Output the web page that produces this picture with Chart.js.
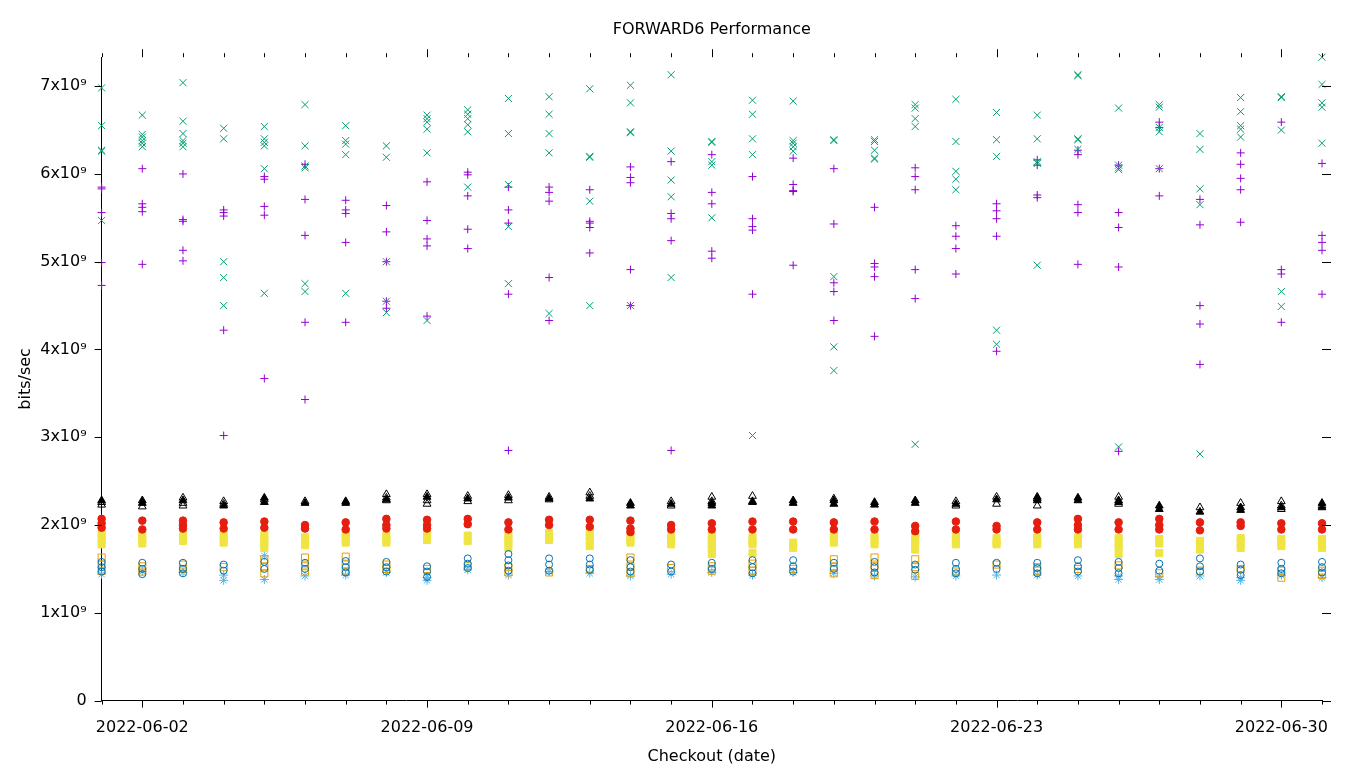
<!DOCTYPE html>
<html>
<head>
<meta charset="utf-8">
<title>FORWARD6 Performance</title>
<script src="https://cdn.jsdelivr.net/npm/chart.js@4"></script>
<style>
  html, body { margin: 0; padding: 0; background: #fff; }
  #wrap { width: 1360px; height: 768px; }
</style>
</head>
<body>
<div id="wrap"><canvas id="chart"></canvas></div>
<script>
// values are in units of 10^9 bits/sec, one inner list per checkout day (2022-06-01 .. 2022-07-01)
const tickDays = [1, 8, 15, 22, 29];
const tickLabels = ['2022-06-02', '2022-06-09', '2022-06-16', '2022-06-23', '2022-06-30'];
const yTicks = [0, 1, 2, 3, 4, 5, 6, 7];

const purplePlus = [
  [5.85,5.83,5.56,4.99,4.73],[6.06,5.66,5.62,5.57,4.97],[6.00,5.48,5.46,5.13,5.01],[5.59,5.56,5.52,4.22,3.02],
  [5.97,5.94,5.63,5.53,3.67],[6.11,5.71,5.30,4.31,3.43],[5.70,5.59,5.55,5.22,4.31],[5.64,5.34,5.00,4.55,4.47],
  [5.91,5.47,5.26,5.18,4.38],[6.02,5.99,5.75,5.37,5.15],[5.85,5.59,5.44,4.63,2.85],[5.85,5.79,5.69,4.82,4.33],
  [5.82,5.46,5.44,5.39,5.10],[6.08,5.96,5.90,4.91,4.50],[6.14,5.55,5.49,5.24,2.85],[6.22,5.79,5.66,5.12,5.04],
  [5.97,5.49,5.40,5.36,4.63],[6.18,5.88,5.81,5.80,4.96],[6.06,5.43,4.76,4.66,4.33],[5.62,4.98,4.94,4.83,4.15],
  [6.07,5.97,5.82,4.91,4.58],[5.41,5.29,5.15,4.86],[5.66,5.58,5.49,5.29,3.98],[6.16,6.10,5.76,5.73],
  [6.27,6.22,5.65,5.56,4.97],[6.10,5.56,5.39,4.94,2.84],[6.59,6.53,6.06,5.75],[5.71,5.42,4.50,4.29,3.83],
  [6.24,6.11,5.95,5.82,5.45],[6.59,4.91,4.86,4.31],[6.12,5.30,5.22,5.13,4.63]
];
const greenCross = [
  [6.98,6.55,6.27,6.26,5.47],[6.67,6.45,6.42,6.38,6.35,6.31],[7.04,6.60,6.46,6.38,6.35,6.31],[6.52,6.40,5.00,4.82,4.50],
  [6.54,6.40,6.36,6.32,6.06,4.64],[6.79,6.32,6.09,6.07,4.75,4.66],[6.55,6.38,6.34,6.22,4.64],[6.32,6.19,5.00,4.55,4.42],
  [6.67,6.63,6.59,6.51,6.24,4.33],[6.73,6.68,6.63,6.56,6.48,5.85],[6.86,6.46,5.88,5.40,4.75],[6.88,6.68,6.46,6.24,4.41],
  [6.97,6.20,6.19,5.69,4.50],[7.01,6.81,6.48,6.47,4.50],[7.13,6.26,5.93,5.74,4.82],[6.37,6.36,6.14,6.10,5.50],
  [6.84,6.68,6.40,6.22,3.02],[6.83,6.38,6.35,6.31,6.26],[6.39,6.38,4.83,4.03,3.76],[6.39,6.37,6.27,6.18,6.17],
  [6.79,6.75,6.63,6.54,2.92],[6.85,6.37,6.03,5.94,5.82],[6.70,6.39,6.20,4.22,4.06],[6.67,6.40,6.14,6.12,4.96],
  [7.13,7.12,6.40,6.39,6.28],[6.75,6.10,6.07,6.05,2.89],[6.79,6.76,6.53,6.48,6.06],[6.46,6.28,5.83,5.65,2.81],
  [6.87,6.71,6.55,6.51,6.42],[6.88,6.87,6.50,4.66,4.49],[7.33,7.02,6.81,6.76,6.35]
];
const lightBlueStar = [
  [1.44],[1.47],[1.46],[1.37,1.43],[1.65,1.38],[1.42],[1.43],[1.46],[1.40,1.37],[1.49],[1.43],
  [1.47],[1.45],[1.42],[1.44],[1.46],[1.43],[1.46],[1.45],[1.42],[1.41],[1.42],[1.43],[1.43],
  [1.42],[1.38,1.42],[1.41,1.38],[1.42],[1.37,1.40],[1.43],[1.40]
];
const orangeSquare = [
  [1.63,1.55,1.48],[1.53,1.47],[1.55,1.50],[1.52],[1.61,1.52,1.45],[1.63,1.53,1.47],[1.64,1.55,1.47],[1.55,1.50],
  [1.50],[1.53],[1.52,1.46],[1.46],[1.50],[1.63,1.53,1.45],[1.51],[1.53,1.48],[1.56,1.48],[1.50],
  [1.61,1.52,1.45],[1.63,1.53,1.43],[1.61,1.52,1.42],[1.47],[1.55],[1.52,1.48],[1.50],[1.54],[1.45],
  [1.48],[1.50],[1.48,1.40],[1.48,1.43]
];
const yellowSquare = [
  [1.90,1.84,1.78],[1.89,1.84,1.79],[1.89,1.82],[1.90,1.85,1.80],[1.89,1.84,1.80,1.74],[1.86,1.81,1.77],
  [1.90,1.85,1.80],[1.88,1.84,1.80],[1.90,1.85,1.83],[1.88,1.82],[1.89,1.84,1.80,1.74],[1.91,1.86,1.83],
  [1.92,1.87,1.82,1.76],[1.87,1.83,1.80],[1.87,1.82,1.78],[1.88,1.83,1.78,1.73,1.67],[1.86,1.81,1.78,1.68],
  [1.80,1.74],[1.88,1.84,1.80],[1.87,1.82,1.78],[1.87,1.82,1.78,1.72],[1.87,1.82,1.78],[1.85,1.80,1.78],
  [1.86,1.82,1.78],[1.86,1.82,1.78],[1.85,1.80,1.75,1.67],[1.84,1.79,1.68],[1.82,1.77,1.72],[1.85,1.80,1.74],
  [1.84,1.80,1.76],[1.84,1.79,1.74]
];
const blueCircle = [
  [1.58,1.52,1.47],[1.57,1.50,1.44],[1.57,1.50,1.45],[1.55,1.48],[1.58,1.50],[1.57,1.50],[1.59,1.52,1.46],
  [1.58,1.52,1.47],[1.53,1.47,1.41],[1.62,1.56,1.51],[1.67,1.60,1.54,1.48],[1.62,1.55,1.48],[1.62,1.55,1.49],
  [1.60,1.52,1.47],[1.55,1.47],[1.57,1.50],[1.60,1.52,1.45],[1.60,1.53,1.47],[1.57,1.50],[1.58,1.52,1.46],
  [1.55,1.49],[1.57,1.50,1.45],[1.57,1.50],[1.57,1.51,1.45],[1.60,1.53,1.47],[1.58,1.51,1.45],[1.56,1.48],
  [1.62,1.53,1.47],[1.55,1.49,1.43],[1.57,1.50,1.45],[1.58,1.52,1.46]
];
const redCircle = [
  [2.07,2.02,1.97],[2.05,1.95],[2.05,2.00,1.96],[2.03,1.96],[2.04,1.97],[2.00,1.96],[2.03,1.95],[2.07,2.00,1.96],
  [2.06,2.00,1.96],[2.07,2.01],[2.03,1.95],[2.06,2.00],[2.06,1.98],[2.05,1.96,1.92],[2.00,1.95],[2.02,1.95],
  [2.04,1.95],[2.04,1.95],[2.03,1.95],[2.04,1.95],[1.99,1.93],[2.04,1.95],[1.99,1.95],[2.03,1.95],
  [2.07,2.00,1.95],[2.03,1.95],[2.07,2.00,1.95],[2.03,1.94],[2.03,1.99],[2.02,1.95],[2.02,1.95]
];
const openTriangle = [
  [2.26,2.23],[2.21],[2.31,2.25,2.22],[2.27,2.24],[2.29],[2.27],[],[2.35,2.31,2.28],[2.35,2.28,2.24],
  [2.33,2.27],[2.34,2.28],[2.32,2.29],[2.37,2.33],[],[2.27,2.22],[2.32,2.27],[2.33,2.27],[],[2.30],[],[],
  [2.27,2.22],[2.32,2.24],[2.30,2.22],[],[2.32,2.24],[],[2.20],[2.25],[2.27,2.22,2.18],[2.22]
];
const filledTriangle = [
  [2.28],[2.28,2.25],[2.28],[2.22],[2.31,2.26],[2.25],[2.27,2.25],[2.29],[2.32],[2.30],[2.31],[2.30],[2.30],
  [2.25,2.22],[2.24],[2.25,2.22],[2.26],[2.28,2.25],[2.28,2.24],[2.26,2.23],[2.28,2.25],[2.24],[2.29],
  [2.32,2.28],[2.31,2.28],[2.28,2.26],[2.22,2.18],[2.15],[2.20,2.17],[2.20],[2.25,2.20]
];

function toPoints(perDay) {
  const pts = [];
  perDay.forEach((vals, day) => vals.forEach(v => pts.push({ x: day, y: v })));
  return pts;
}

// gnuplot-like tick marks: out on left/bottom, mirrored on top/right
const ticsPlugin = {
  id: 'tics',
  afterDraw(chart) {
    const { ctx, chartArea: a, scales: { x, y } } = chart;
    ctx.save();
    ctx.strokeStyle = '#000';
    ctx.lineWidth = 1;
    ctx.beginPath();
    for (let d = 0; d <= 30; d++) {
      const px = Math.round(x.getPixelForValue(d)) + 0.5;
      const major = tickDays.includes(d);
      ctx.moveTo(px, a.bottom); ctx.lineTo(px, a.bottom + (major ? 7 : 4));
      ctx.moveTo(px, a.top); ctx.lineTo(px, a.top - (major ? 8 : 4));
    }
    yTicks.forEach(v => {
      const py = Math.round(y.getPixelForValue(v)) + 0.5;
      ctx.moveTo(a.left - 7, py); ctx.lineTo(a.left, py);
      ctx.moveTo(a.right, py); ctx.lineTo(a.right + 9, py);
    });
    ctx.stroke();
    ctx.restore();
  }
};

function series(data, style, radius, border, fill, order) {
  return {
    data: toPoints(data),
    pointStyle: style,
    pointRadius: radius,
    pointBorderWidth: 1,
    borderColor: border,
    backgroundColor: fill,
    pointBackgroundColor: fill,
    pointBorderColor: border,
    showLine: false,
    clip: false,
    order
  };
}

const font = { family: 'DejaVu Sans', size: 16 };
const none = 'rgba(0,0,0,0)';

new Chart(document.getElementById('chart'), {
  type: 'scatter',
  data: {
    datasets: [
      series(purplePlus, 'cross', 4, '#9400d3', none, 9),
      series(greenCross, 'crossRot', 5, '#009e73', none, 8),
      series(lightBlueStar, 'star', 4.5, '#56b4e9', none, 7),
      series(orangeSquare, 'rect', 5, '#e69f00', none, 6),
      series(yellowSquare, 'rect', 5, '#f0e442', '#f0e442', 5),
      series(blueCircle, 'circle', 3.5, '#0072b2', none, 4),
      series(redCircle, 'circle', 3.8, '#e51e10', '#e51e10', 3),
      series(openTriangle, 'triangle', 4.5, '#000', none, 2),
      series(filledTriangle, 'triangle', 4.5, '#000', '#000', 1)
    ]
  },
  options: {
    responsive: true,
    maintainAspectRatio: false,
    animation: false,
    layout: { padding: { left: 10, right: 38, top: 0, bottom: 2 } },
    plugins: {
      legend: { display: false },
      tooltip: { enabled: false },
      title: {
        display: true,
        fullSize: false,
        text: 'FORWARD6 Performance',
        color: '#000',
        font: { ...font, weight: 'normal' },
        padding: { top: 20, bottom: 18 }
      }
    },
    scales: {
      x: {
        type: 'linear',
        min: 0,
        max: 30,
        grid: { display: false, drawTicks: false },
        border: { display: true, color: '#000', width: 1 },
        afterBuildTicks: s => { s.ticks = tickDays.map(v => ({ value: v })); },
        ticks: {
          autoSkip: false,
          maxRotation: 0,
          padding: 18,
          color: '#000',
          font,
          callback: v => tickLabels[tickDays.indexOf(v)]
        },
        title: { display: true, text: 'Checkout (date)', color: '#000', font, padding: { top: -9, bottom: 0 } }
      },
      y: {
        min: 0,
        max: 7.33,
        grid: { display: false, drawTicks: false },
        border: { display: true, color: '#000', width: 1 },
        afterBuildTicks: s => { s.ticks = yTicks.map(v => ({ value: v })); },
        ticks: {
          padding: 15,
          color: '#000',
          font,
          callback: v => (v === 0 ? '0' : v + 'x10\u2079')
        },
        title: { display: true, text: 'bits/sec', color: '#000', font, padding: { top: 6, bottom: -10 } }
      }
    }
  },
  plugins: [ticsPlugin]
});
</script>
</body>
</html>
